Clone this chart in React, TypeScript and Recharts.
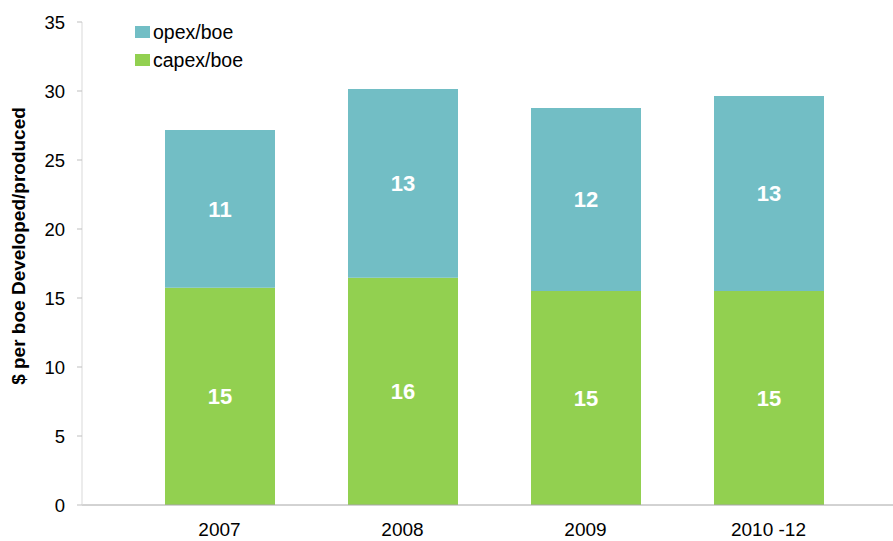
import {
    Bar,
    BarChart,
    Label,
    LabelList,
    XAxis,
    YAxis,
} from "recharts";

const periods = ["2007", "2008", "2009", "2010 -12"];
const capexPerBoe = [15.75, 16.47, 15.51, 15.51];
const opexPerBoe = [11.42, 13.67, 13.26, 14.13];
const capexLabels = ["15", "16", "15", "15"];
const opexLabels = ["11", "13", "12", "13"];
const yTicks = [0, 5, 10, 15, 20, 25, 30, 35];

const data = periods.map((period, i) => ({
    period,
    capex: capexPerBoe[i],
    opex: opexPerBoe[i],
    capexLabel: capexLabels[i],
    opexLabel: opexLabels[i],
}));

const font = "'Liberation Sans', Arial, sans-serif";

const legendItems = [
    { name: "opex/boe", color: "#72BEC5" },
    { name: "capex/boe", color: "#92D050" },
];

const LegendBox = () => (
    <div
        style={{
            position: "absolute",
            left: 135,
            top: 18,
            fontFamily: font,
            fontSize: 19.5,
            color: "#000",
        }}
    >
        {legendItems.map((item) => (
            <div
                key={item.name}
                style={{ display: "flex", alignItems: "center", height: 28 }}
            >
                <span
                    style={{
                        width: 15,
                        height: 12,
                        background: item.color,
                        marginRight: 3,
                        display: "inline-block",
                    }}
                />
                {item.name}
            </div>
        ))}
    </div>
);

const App = () => {
    return (
        <div style={{ position: "absolute", left: 0, top: 0, width: 893, height: 541 }}>
            <BarChart
                width={893}
                height={541}
                data={data}
                margin={{ top: 22, right: 0, left: 22, bottom: 0 }}
            >
                <XAxis
                    dataKey="period"
                    height={36}
                    tickLine={false}
                    tickMargin={12}
                    axisLine={{ stroke: "#a6a6a6" }}
                    padding={{ left: 46, right: 33 }}
                    tick={{ fill: "#000", fontSize: 19, fontFamily: font }}
                />
                <YAxis
                    width={60}
                    domain={[0, 35]}
                    ticks={yTicks}
                    tickSize={5}
                    tickMargin={12}
                    tickLine={{ stroke: "#bfbfbf" }}
                    axisLine={{ stroke: "#d9d9d9" }}
                    tick={{ fill: "#000", fontSize: 18.5, fontFamily: font }}
                >
                    <Label
                        content={() => (
                            <text
                                transform="translate(18,246) rotate(-90)"
                                textAnchor="middle"
                                dominantBaseline="central"
                                fontFamily={font}
                                fontSize={19}
                                fontWeight="bold"
                                fill="#000"
                            >
                                $ per boe Developed/produced
                            </text>
                        )}
                    />
                </YAxis>
                <Bar
                    dataKey="capex"
                    stackId="a"
                    fill="#92D050"
                    barSize={110}
                    isAnimationActive={false}
                >
                    <LabelList
                        dataKey="capexLabel"
                        position="center"
                        fill="#fff"
                        fontSize={22}
                        fontWeight="bold"
                        fontFamily={font}
                    />
                </Bar>
                <Bar
                    dataKey="opex"
                    stackId="a"
                    fill="#72BEC5"
                    barSize={110}
                    isAnimationActive={false}
                >
                    <LabelList
                        dataKey="opexLabel"
                        position="center"
                        fill="#fff"
                        fontSize={22}
                        fontWeight="bold"
                        fontFamily={font}
                    />
                </Bar>
            </BarChart>
            <LegendBox />
        </div>
    );
};

export default App;
